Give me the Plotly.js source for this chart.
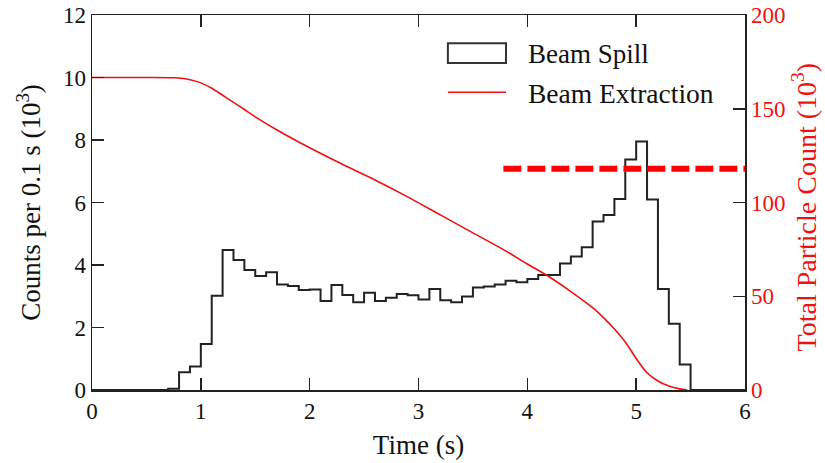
<!DOCTYPE html>
<html>
<head>
<meta charset="utf-8">
<script src="https://cdn.plot.ly/plotly-3.0.1.min.js"></script>
<style>html,body{margin:0;padding:0;background:#fff;}#chart{width:825px;height:463px;}</style>
</head>
<body>
<div id="chart"></div>
<script>
// Beam spill histogram: bin starts (s) and counts per 0.1 s (10^3)
const binStarts = [0.7,0.8,0.9,1.0,1.1,1.2,1.3,1.4,1.5,1.6,1.7,1.8,1.9,2.0,2.1,2.2,2.3,2.4,2.5,2.6,2.7,2.8,2.9,3.0,3.1,3.2,3.3,3.4,3.5,3.6,3.7,3.8,3.9,4.0,4.1,4.2,4.3,4.4,4.5,4.6,4.7,4.8,4.9,5.0,5.1,5.2,5.3,5.4];
const spillCounts = [0.04,0.57,0.75,1.47,3.02,4.48,4.16,3.84,3.65,3.77,3.38,3.33,3.20,3.22,2.85,3.36,3.04,2.81,3.11,2.85,2.95,3.07,3.03,2.90,3.23,2.87,2.81,2.99,3.28,3.31,3.38,3.50,3.45,3.55,3.68,3.68,4.05,4.27,4.57,5.39,5.60,6.11,7.38,7.95,6.10,3.23,2.12,0.82];
const binWidth = 0.1;

// Beam extraction: total particle count remaining (10^3), right axis
const extTime  = [0,0.5,0.75,0.9,1.0,1.1,1.2,1.3,1.4,1.5,1.7,2.0,2.3,2.6,2.9,3.2,3.5,3.8,4.0,4.2,4.4,4.6,4.7,4.8,4.9,5.0,5.1,5.2,5.3,5.4,5.47];
const extCount = [166.7,166.7,166.5,165.5,163.8,160.9,157.2,153.4,149.6,145.7,138.7,129.2,120.4,112.0,103.0,93.4,83.8,74.2,67.2,60.4,52.5,43.9,38.6,32.5,25.6,16.8,9.2,4.8,2.1,0.6,0];

// Reference level (right axis, 10^3) and where the dashed line starts (s)
const refLevel = 118;
const refStart = 3.78;

const xTicks = [0,1,2,3,4,5,6];
const yTicks = [0,2,4,6,8,10,12];
const y2Ticks = [0,50,100,150,200];

const FONT = 'Liberation Serif, Times New Roman, serif';
const RED = '#ee1111';

// step outline built from the bins
const lastEdge = binStarts[binStarts.length-1] + binWidth;
const stepX = [0].concat(binStarts, [lastEdge, 6]);
const stepY = [0].concat(spillCounts, [0, 0]);

const traces = [
  {x: stepX, y: stepY, type: 'scatter', mode: 'lines', line: {shape: 'hv', color: '#222', width: 2}, showlegend: false, hoverinfo: 'skip'},
  {x: extTime, y: extCount, type: 'scatter', mode: 'lines', yaxis: 'y2', line: {shape: 'spline', smoothing: 0.8, color: RED, width: 1.6}, showlegend: false},
  // empty trace so the top axis (ticks only) is drawn
  {x: [], y: [], type: 'scatter', mode: 'lines', xaxis: 'x2', yaxis: 'y', showlegend: false}
];

const axisCommon = {
  showgrid: false, zeroline: false, showline: true, linecolor: '#222', linewidth: 1.5,
  ticks: 'inside', ticklen: 12, tickwidth: 1.5, tickcolor: '#222',
  tickfont: {family: FONT, size: 23, color: '#111'}
};

const layout = {
  width: 825, height: 463,
  margin: {l: 92, r: 80, t: 15, b: 73},
  paper_bgcolor: '#fff', plot_bgcolor: '#fff',
  showlegend: false,
  xaxis: Object.assign({}, axisCommon, {
    range: [0, 6], tickvals: xTicks,
    title: {text: 'Time (s)', font: {family: FONT, size: 27, color: '#111'}, standoff: 12}
  }),
  xaxis2: Object.assign({}, axisCommon, {
    range: [0, 6], tickvals: xTicks, overlaying: 'x', side: 'top', anchor: 'y', showticklabels: false
  }),
  yaxis: Object.assign({}, axisCommon, {
    range: [0, 12], tickvals: yTicks,
    title: {text: 'Counts per 0.1 s (10<sup>3</sup>)', font: {family: FONT, size: 27, color: '#111'}, standoff: 14}
  }),
  yaxis2: Object.assign({}, axisCommon, {
    range: [0, 200], tickvals: y2Ticks, overlaying: 'y', side: 'right',
    tickfont: {family: FONT, size: 23, color: RED}
  }),
  shapes: [
    {type: 'line', xref: 'x', yref: 'y2', x0: refStart, x1: 7.2, y0: refLevel, y1: refLevel,
     line: {color: '#ff0000', width: 6, dash: '18px,6px'}},
    // legend key: box for Beam Spill, line for Beam Extraction
    {type: 'rect', xref: 'paper', yref: 'paper', x0: 0.545, x1: 0.634, y0: 0.872, y1: 0.925,
     line: {color: '#333', width: 2}, fillcolor: 'rgba(0,0,0,0)'},
    {type: 'line', xref: 'paper', yref: 'paper', x0: 0.545, x1: 0.634, y0: 0.794, y1: 0.794,
     line: {color: RED, width: 1.6}}
  ],
  annotations: [
    {xref: 'paper', yref: 'paper', x: 0.664, y: 0.895, xanchor: 'left', yanchor: 'middle', showarrow: false,
     text: 'Beam Spill', font: {family: FONT, size: 27, color: '#111'}},
    {xref: 'paper', yref: 'paper', x: 0.664, y: 0.790, xanchor: 'left', yanchor: 'middle', showarrow: false,
     text: 'Beam Extraction', font: {family: FONT, size: 27.5, color: '#111'}},
    // right axis title, pushed as far right as it fits
    {xref: 'paper', yref: 'paper', x: 1.091, y: 0.488, xanchor: 'center', yanchor: 'middle', showarrow: false,
     textangle: -90, text: 'Total Particle Count (10<sup>3</sup>)', font: {family: FONT, size: 28, color: RED}}
  ]
};

Plotly.newPlot('chart', traces, layout, {displayModeBar: false, staticPlot: true});
</script>
</body>
</html>
